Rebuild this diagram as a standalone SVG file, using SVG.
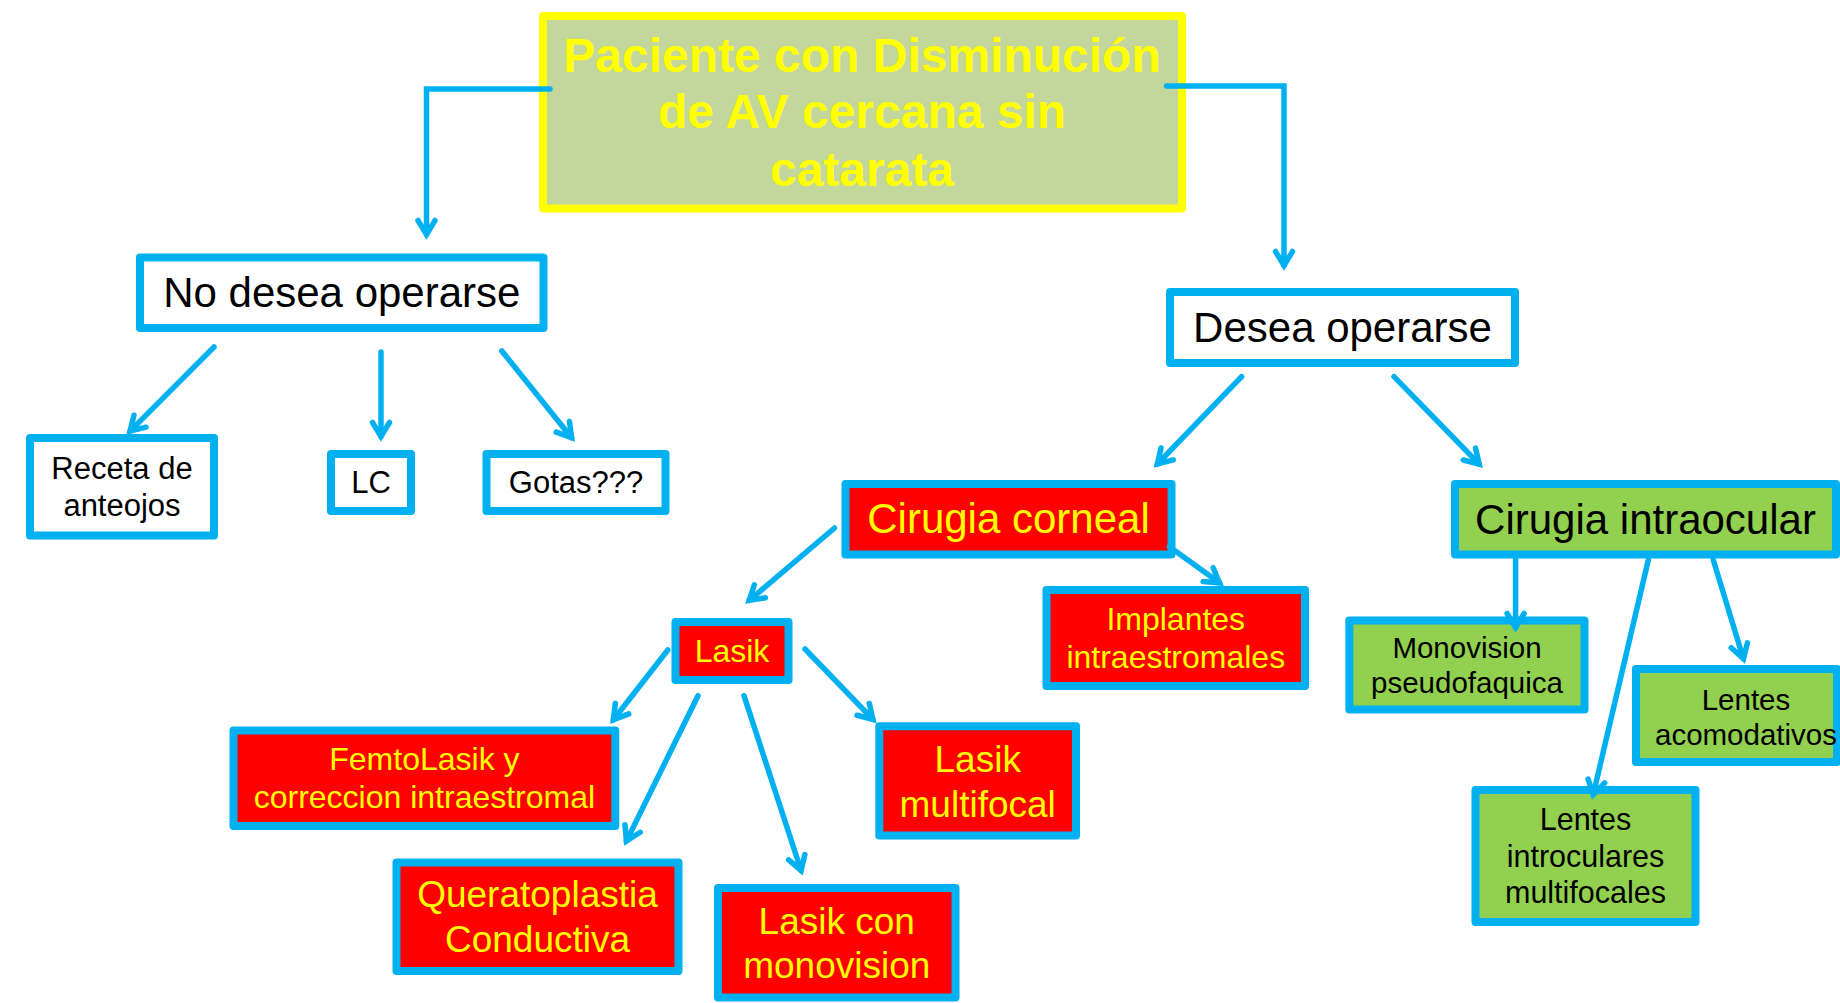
<svg xmlns="http://www.w3.org/2000/svg" width="1840" height="1003" viewBox="0 0 1840 1003">
<defs>
<style>
.box{stroke:#00B0F0;stroke-width:8;stroke-linejoin:round}
.w{fill:#FFFFFF}.r{fill:#FF0000}.g{fill:#92D050}
text{font-family:"Liberation Sans",Arial,sans-serif;text-anchor:middle}
.tb{fill:#000000}.ty{fill:#FFFF00}
.c{fill:none;stroke:#00B0F0;stroke-width:5.5;stroke-linecap:round;stroke-linejoin:miter}
</style>
<marker id="ah" markerUnits="userSpaceOnUse" viewBox="-20 -14 30 28" refX="0" refY="0" markerWidth="30" markerHeight="28" orient="auto">
<path d="M-14,-8.5 L0,0 L-14,8.5" fill="none" stroke="#00B0F0" stroke-width="5.5" stroke-linecap="round" stroke-linejoin="miter"/>
</marker>
</defs>
<rect width="1840" height="1003" fill="#FFFFFF"/>

<g id="main">
<rect x="543" y="16" width="639" height="192.5" fill="#C3D69B" stroke="#FFFF00" stroke-width="8" stroke-linejoin="round"/>
<text class="ty" font-size="48" font-weight="bold" x="862" y="71.7">Paciente con Disminución</text>
<text class="ty" font-size="48" font-weight="bold" x="862" y="128.3">de AV cercana sin</text>
<text class="ty" font-size="48" font-weight="bold" x="862" y="185.5">catarata</text>
</g>

<g id="no-desea">
<rect class="box w" x="140" y="257.5" width="403.5" height="70.5"/>
<text class="tb" font-size="42" x="341.8" y="307">No desea operarse</text>
</g>

<g id="receta">
<rect class="box w" x="30" y="438" width="184" height="97.5"/>
<text class="tb" font-size="31" x="122" y="479">Receta de</text>
<text class="tb" font-size="31" x="122" y="515.5">anteojos</text>
</g>

<g id="lc">
<rect class="box w" x="331" y="454" width="80" height="57"/>
<text class="tb" font-size="31" x="371" y="493">LC</text>
</g>

<g id="gotas">
<rect class="box w" x="486.5" y="454" width="179" height="57"/>
<text class="tb" font-size="31" x="576" y="493">Gotas???</text>
</g>

<g id="desea">
<rect class="box w" x="1170" y="292" width="345" height="71"/>
<text class="tb" font-size="42" x="1342.5" y="342">Desea operarse</text>
</g>

<g id="cirugia-corneal">
<rect class="box r" x="845.5" y="484" width="326" height="70.5"/>
<text class="ty" font-size="42" x="1008.5" y="533">Cirugia corneal</text>
</g>

<g id="cirugia-intraocular">
<rect class="box g" x="1455" y="484" width="381" height="70.5"/>
<text class="tb" font-size="42" x="1645.5" y="534">Cirugia intraocular</text>
</g>

<g id="implantes">
<rect class="box r" x="1046.5" y="590" width="258.5" height="96"/>
<text class="ty" font-size="32" x="1175.75" y="630">Implantes</text>
<text class="ty" font-size="32" x="1175.75" y="668.3">intraestromales</text>
</g>

<g id="monovision-pseudofaquica">
<rect class="box g" x="1349.3" y="620.5" width="235.2" height="89"/>
<text class="tb" font-size="29.5" x="1467" y="658">Monovision</text>
<text class="tb" font-size="29.5" x="1467" y="692.7">pseudofaquica</text>
</g>

<g id="lentes-acomodativos">
<rect class="box g" x="1636" y="669" width="201" height="93"/>
<text class="tb" font-size="29.5" x="1746" y="710">Lentes</text>
<text class="tb" font-size="29.5" x="1746" y="745">acomodativos</text>
</g>

<g id="lentes-multifocales">
<rect class="box g" x="1475.5" y="790" width="220" height="132"/>
<text class="tb" font-size="30.5" x="1585.5" y="830">Lentes</text>
<text class="tb" font-size="30.5" x="1585.5" y="866.7">introculares</text>
<text class="tb" font-size="30.5" x="1585.5" y="903">multifocales</text>
</g>

<g id="lasik">
<rect class="box r" x="675.5" y="622" width="113" height="58"/>
<text class="ty" font-size="32" x="732" y="662">Lasik</text>
</g>

<g id="femtolasik">
<rect class="box r" x="233.5" y="730.5" width="381.8" height="95.5"/>
<text class="ty" font-size="32" x="424.4" y="770">FemtoLasik y</text>
<text class="ty" font-size="32" x="424.4" y="808">correccion intraestromal</text>
</g>

<g id="queratoplastia">
<rect class="box r" x="396.5" y="862.5" width="282" height="108.5"/>
<text class="ty" font-size="37" x="537.5" y="907">Queratoplastia</text>
<text class="ty" font-size="37" x="537.5" y="952">Conductiva</text>
</g>

<g id="lasik-monovision">
<rect class="box r" x="718" y="888" width="237.5" height="109.5"/>
<text class="ty" font-size="37" x="836.75" y="934">Lasik con</text>
<text class="ty" font-size="37" x="836.75" y="978.3">monovision</text>
</g>

<g id="lasik-multifocal">
<rect class="box r" x="879.3" y="726.3" width="196.7" height="109.2"/>
<text class="ty" font-size="37" x="977.7" y="771.7">Lasik</text>
<text class="ty" font-size="37" x="977.7" y="816.7">multifocal</text>
</g>

<g id="connectors">
<polyline class="c" points="550,89 426.5,89 426.5,234.5" marker-end="url(#ah)"/>
<polyline class="c" points="1166.5,86 1284,86 1284,265.5" marker-end="url(#ah)"/>
<line class="c" x1="214" y1="347" x2="130.1" y2="431.1" marker-end="url(#ah)"/>
<line class="c" x1="381" y1="352" x2="381" y2="436.5" marker-end="url(#ah)"/>
<line class="c" x1="501.8" y1="351" x2="571.6" y2="437.7" marker-end="url(#ah)"/>
<line class="c" x1="1241.6" y1="376.7" x2="1157.4" y2="464" marker-end="url(#ah)"/>
<line class="c" x1="1394" y1="376.7" x2="1479.2" y2="464.1" marker-end="url(#ah)"/>
<line class="c" x1="834.5" y1="528" x2="749.2" y2="600.4" marker-end="url(#ah)"/>
<line class="c" x1="1169.4" y1="546.7" x2="1219.5" y2="582.8" marker-end="url(#ah)"/>
<line class="c" x1="667.8" y1="650" x2="613.4" y2="719.7" marker-end="url(#ah)"/>
<line class="c" x1="698" y1="695.7" x2="626.4" y2="841.1" marker-end="url(#ah)"/>
<line class="c" x1="744" y1="695.7" x2="801.1" y2="870.5" marker-end="url(#ah)"/>
<line class="c" x1="805" y1="649" x2="872.9" y2="719.4" marker-end="url(#ah)"/>
<line class="c" x1="1515.6" y1="558" x2="1515.6" y2="627.5" marker-end="url(#ah)"/>
<line class="c" x1="1713.3" y1="560" x2="1743.4" y2="658.7" marker-end="url(#ah)"/>
<line class="c" x1="1648.3" y1="560" x2="1593.2" y2="794.6" marker-end="url(#ah)"/>
</g>
</svg>
